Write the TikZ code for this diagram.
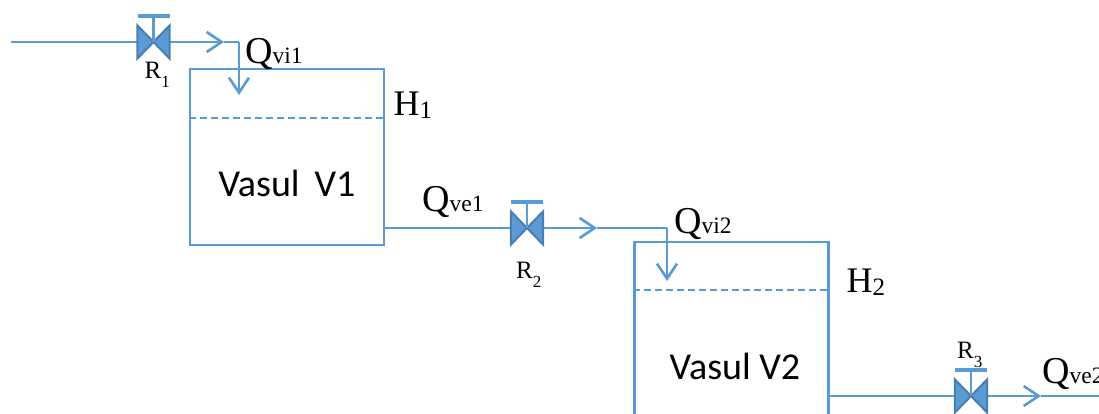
\documentclass[tikz,border=0pt]{standalone}
\usepackage{fontspec}
\setmainfont{Liberation Serif}
\newfontfamily\tankfont{Carlito}
\usetikzlibrary{arrows.meta}
\definecolor{pipeblue}{HTML}{5B9BD5}
\definecolor{valveedge}{HTML}{4A7EB0}
\newcommand{\flowlabel}[2]{{\fontsize{38}{38}\selectfont #1}{\fontsize{23.5}{23.5}\selectfont #2}}
\newcommand{\levellabel}[2]{{\fontsize{36}{36}\selectfont #1}\raisebox{-3pt}{\fontsize{25}{25}\selectfont #2}}
\newcommand{\valvelabel}[2]{{\fontsize{25}{25}\selectfont #1}\raisebox{-9pt}{\fontsize{17}{17}\selectfont #2}}
\newcommand{\drawvalve}[1]{
    \draw [valveline, fill=pipeblue] (#1.north west) -- (#1.south east) -- (#1.north east) -- (#1.south west) -- cycle;
    \draw [pipe] (#1.center) -- ++(0,-26) coordinate (#1 stem);
    \draw [pipe, line width=3.4pt] ([xshift=-16pt]#1 stem) -- ([xshift=16pt]#1 stem);
}

\begin{document}
\begin{tikzpicture}[
        pipe/.style={draw=pipeblue, line width=2.6pt},
        arrow/.style={pipe, -{Straight Barb[length=15pt, width=20pt, line width=2.6pt]}},
        tanknode/.style={rectangle, pipe, minimum width=194pt, inner sep=0pt},
        valvenode/.style={rectangle, inner sep=0pt, minimum width=32pt, minimum height=33pt},
        valveline/.style={draw=valveedge, line width=2pt, line join=miter},
        levelline/.style={draw=pipeblue, line width=1.6pt, dash pattern=on 7pt off 4pt},
        tanktext/.style={font=\tankfont\fontsize{38}{38}\selectfont, inner sep=0pt},
        textnode/.style={anchor=base west, inner sep=0pt, text=black},
        x=1pt,y=-1pt,
    ]
    \useasboundingbox (0,0) rectangle (1099,414);
    \clip (0,0) rectangle (1099,414);
    % tanks
    \node[tanknode, minimum height=176pt] (tank1) at (287,157) {};
    \node[tanknode, minimum height=200pt] (tank2) at (731.5,342) {};
    \node[tanktext] (name1) at (287,183) {Vasul\, V1};
    \node[tanktext] (name2) at (735,366) {Vasul V2};
    % valves
    \node[valvenode] (r1) at (153.5,42) {};
    \node[valvenode] (r2) at (527,228) {};
    \node[valvenode] (r3) at (971,396) {};
    % pipe points
    \coordinate (in) at (11,42);
    \coordinate (mid1) at (224,42);
    \coordinate (corner1) at (239,42);
    \coordinate (drop1) at (239,95);
    \coordinate (mid2) at (597,228);
    \coordinate (corner2) at (667,228);
    \coordinate (drop2) at (667,281);
    \coordinate (mid3) at (1041,396);
    \coordinate (out) at (1099,396);
    \draw [pipe] (in) -- (r1.center);
    \draw [arrow] (r1.east) -- (mid1);
    \draw [pipe] (mid1) -- (corner1);
    \draw [arrow] (corner1) -- (drop1);
    \draw [pipe] (r2.center -| tank1.east) -- (r2.center);
    \draw [arrow] (r2.east) -- (mid2);
    \draw [pipe] (mid2) -- (corner2);
    \draw [arrow] (corner2) -- (drop2);
    \draw [pipe] (r3.center -| tank2.east) -- (r3.center);
    \draw [arrow] (r3.east) -- (mid3);
    \draw [pipe] (mid3) -- (out);
    \drawvalve{r1}
    \drawvalve{r2}
    \drawvalve{r3}
    % levels
    \coordinate (lev1) at (287,117.8);
    \coordinate (lev2) at (731,290);
    \draw [levelline] (lev1 -| tank1.west) -- (lev1 -| tank1.east);
    \draw [levelline] (lev2 -| tank2.west) -- (lev2 -| tank2.east);
    % labels
    \node[textnode] (qvi1) at (245,63.5) {\flowlabel{Q}{vi1}};
    \node[textnode] (qve1) at (422,211.5) {\flowlabel{Q}{ve1}};
    \node[textnode] (qvi2) at (674,233.5) {\flowlabel{Q}{vi2}};
    \node[textnode] (qve2) at (1042,383) {\flowlabel{Q}{ve2}};
    \node[textnode] (h1) at (393.5,115.5) {\levellabel{H}{1}};
    \node[textnode] (h2) at (846.5,292.5) {\levellabel{H}{2}};
    \node[textnode] (lr1) at (144.5,79) {\valvelabel{R}{1}};
    \node[textnode] (lr2) at (516,278) {\valvelabel{R}{2}};
    \node[textnode] (lr3) at (957,358.5) {\valvelabel{R}{3}};
\end{tikzpicture}
\end{document}
